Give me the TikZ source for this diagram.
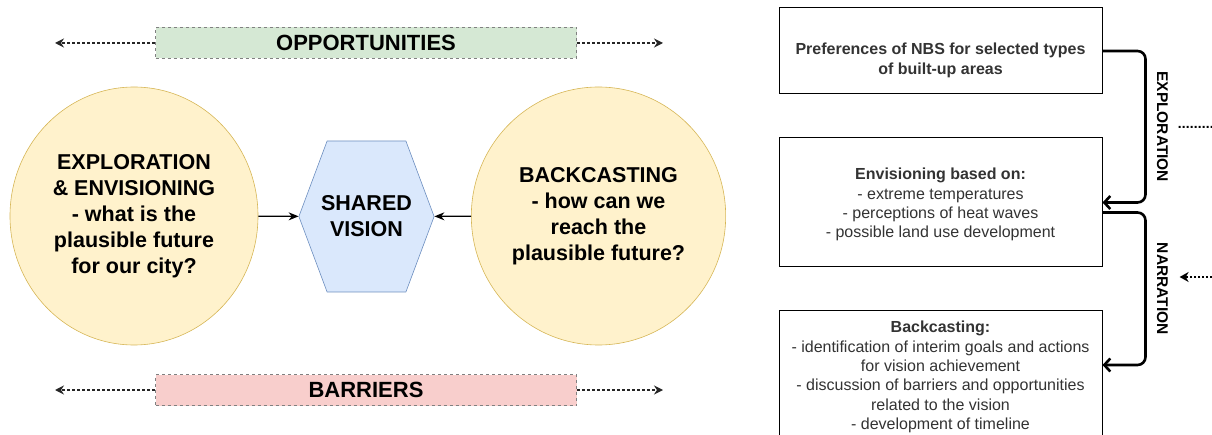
\documentclass[tikz,border=0pt]{standalone}
\usepackage{fontspec}
\setmainfont{Liberation Sans}
\usetikzlibrary{shapes,arrows.meta,positioning}

\definecolor{stagefill}{HTML}{FFF2CC}
\definecolor{stageline}{HTML}{D6B656}
\definecolor{visionfill}{HTML}{DAE8FC}
\definecolor{visionline}{HTML}{6C8EBF}
\definecolor{oppsfill}{HTML}{D5E8D4}
\definecolor{barrfill}{HTML}{F8CECC}
\definecolor{textgray}{HTML}{333333}

\begin{document}
\begin{tikzpicture}[x=1pt, y=-1pt, node distance=43pt, thick]
    \tikzstyle{stage} = [ellipse, draw=stageline, fill=stagefill, line width=0.6pt, minimum width=248pt, minimum height=258pt, align=center, font=\fontsize{21.5}{26}\selectfont\bfseries]
    \tikzstyle{vision} = [signal, signal to=west and east, signal pointer angle=139, draw=visionline, fill=visionfill, line width=0.6pt, inner xsep=-6pt, minimum height=151pt, align=center, font=\fontsize{21.5}{26}\selectfont\bfseries]
    \tikzstyle{band} = [rectangle, draw=gray, dashed, line width=0.6pt, minimum width=421pt, minimum height=31pt, font=\fontsize{22}{26}\selectfont\bfseries]
    \tikzstyle{bandarrow} = [-{Stealth[length=9pt,width=9pt]}, draw=black!85, line width=1.6pt, dash pattern=on 3pt off 2pt]
    \tikzstyle{arrow} = [-{Stealth[length=10pt,width=8pt]}, line width=1.3pt]
    \tikzstyle{stepbox} = [rectangle, draw, fill=white, line width=1pt, minimum width=323pt, align=center, text=textgray, font=\fontsize{16}{19.3}\selectfont]
    \tikzstyle{flow} = [-{Straight Barb[length=6pt,width=13pt]}, line width=2.6pt, rounded corners=8pt]
    \tikzstyle{phase} = [rotate=-90, font=\fontsize{15.5}{18}\selectfont\bfseries]
    \tikzstyle{link} = [line width=2pt, dash pattern=on 2pt off 2pt]

    \useasboundingbox (0,0) rectangle (1212,435);
    \clip (0,0) rectangle (1212,435);

    % left part
    \node [stage] (explore) at (134,216) {EXPLORATION\\\& ENVISIONING\\- what is the\\plausible future\\for our city?};
    \node [vision] (vision) at (366.5,216.5) {SHARED\\VISION};
    \node [stage] (backcast) at (598.5,216) {BACKCASTING\\- how can we\\reach the\\plausible future?};

    \draw [arrow] (explore) -- (vision);
    \draw [arrow] (backcast) -- (vision);

    \node [band, fill=oppsfill] (opps) at (366,43) {OPPORTUNITIES};
    \node [band, fill=barrfill] (barriers) at (366,390) {BARRIERS};
    \coordinate (oppsleft) at (55,43);
    \coordinate (oppsright) at (663,43);
    \coordinate (barrleft) at (55,390);
    \coordinate (barrright) at (663,390);
    \draw [bandarrow] (opps) -- (oppsleft);
    \draw [bandarrow] (opps) -- (oppsright);
    \draw [bandarrow] (barriers) -- (barrleft);
    \draw [bandarrow] (barriers) -- (barrright);

    % right part
    \node [stepbox, minimum height=86pt, font=\fontsize{16}{20}\selectfont\bfseries] (pref) at (940.5,51) {\rule{0pt}{29.5pt}Preferences of NBS for selected types\\of built-up areas};
    \node [stepbox, minimum height=129pt, below=of pref] (envis) {\rule{0pt}{16pt}\textbf{Envisioning based on:}\\- extreme temperatures\\- perceptions of heat waves\\- possible land use development};
    \node [stepbox, minimum height=132pt, below=of envis] (backc) {\textbf{Backcasting:}\\- identification of interim goals and actions\\for vision achievement\\- discussion of barriers and opportunities\\related to the vision\\- development of timeline};

    \draw [flow] (pref.east) -- ++(43,0) |- node [pos=0.25, xshift=17pt, phase] (explabel) {EXPLORATION} (envis.east);
    \draw [flow] ([yshift=-10pt]envis.east) -- ++(43,0) |- node [pos=0.25, xshift=17pt, phase] (narrlabel) {NARRATION} ([yshift=12pt]backc.east);

    \coordinate (explend) at (1240,127);
    \coordinate (narrend) at (1240,277);
    \draw [link, shorten <=6pt] (explabel.north) -- (explend);
    \draw [link, -{Stealth[length=9pt,width=10pt]}, shorten >=7pt] (narrend) -- (narrend -| narrlabel.north);
\end{tikzpicture}
\end{document}
